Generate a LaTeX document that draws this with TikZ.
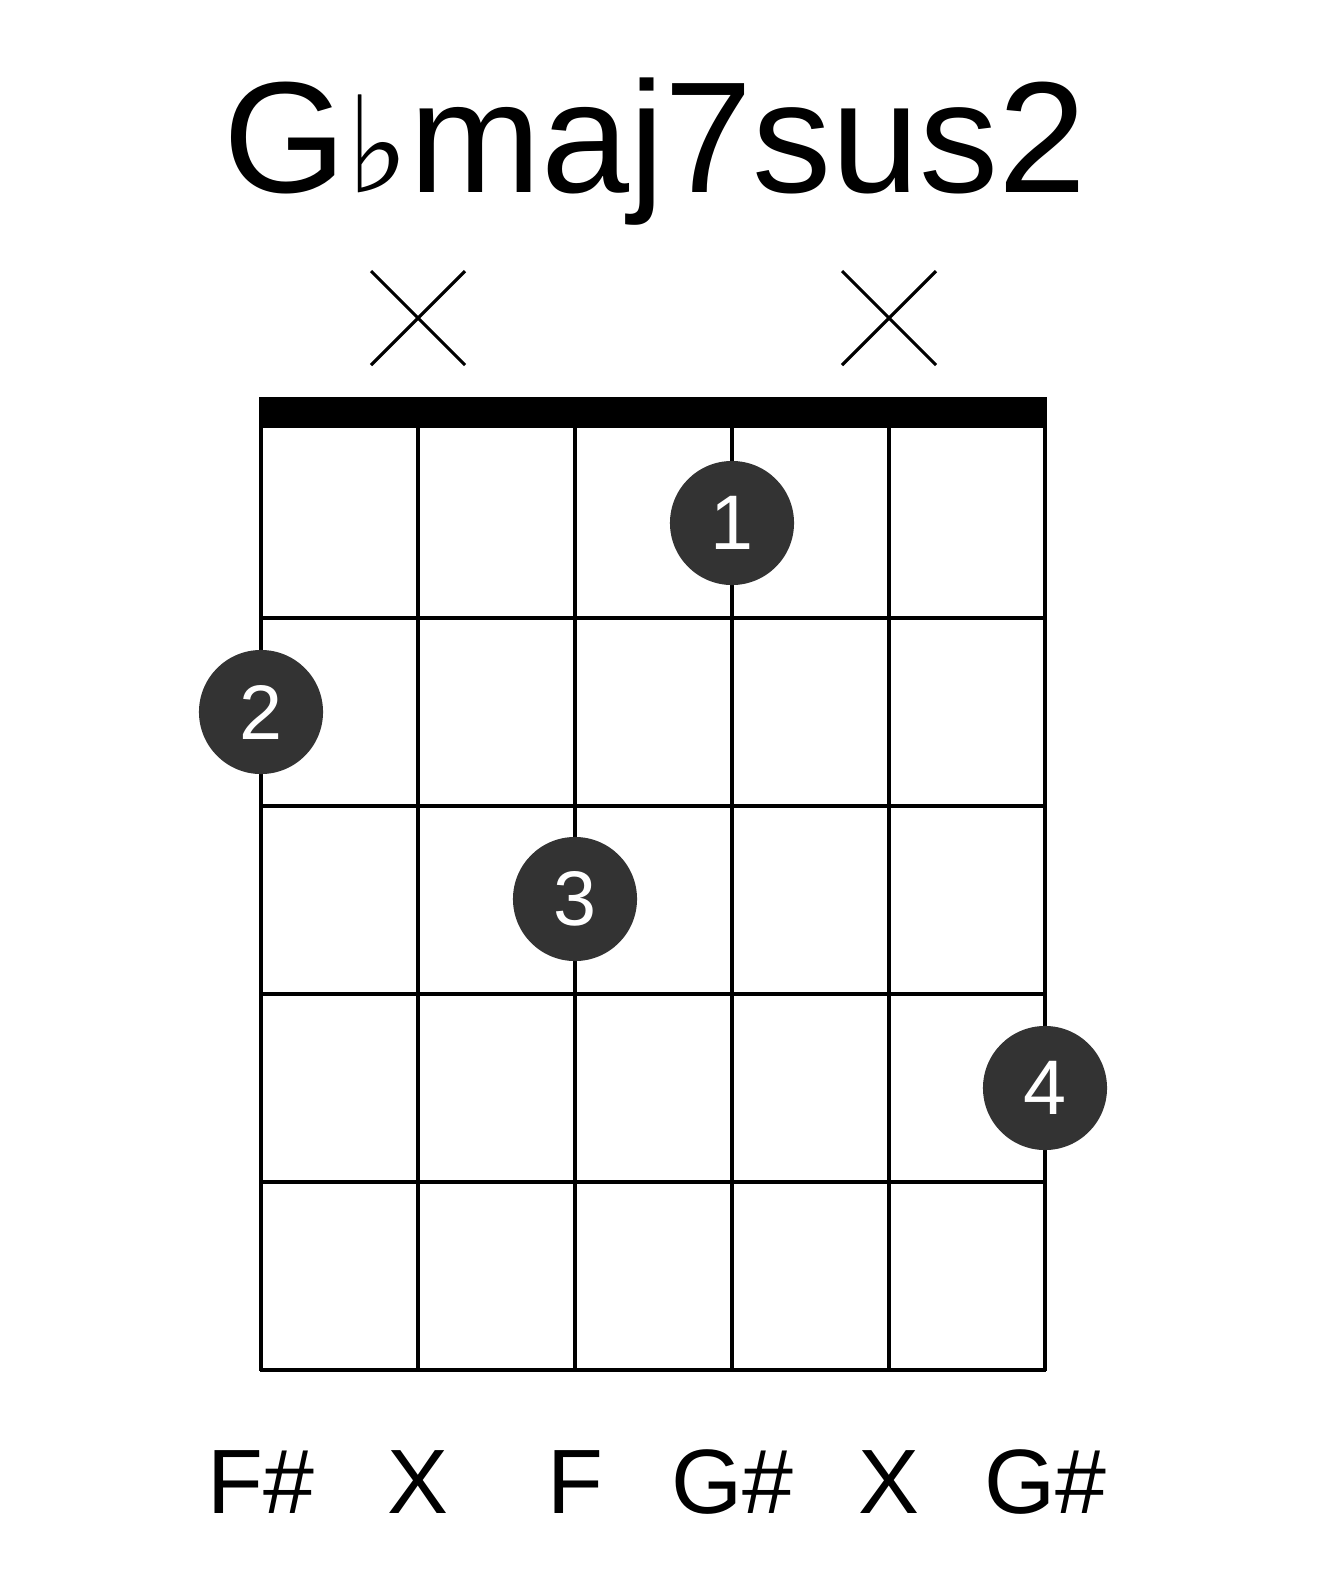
\documentclass[tikz,border=0pt]{standalone}
\usepackage{fontspec}
\setmainfont{Liberation Sans}
\newfontfamily\symfont{DejaVu Sans}
\begin{document}
\begin{tikzpicture}[x=0.01cm, y=-0.01cm,
    fretline/.style={line width=0.9pt},
    finger/.style={circle, fill=black!80, minimum size=1.24cm, inner sep=0pt, text=white, font=\fontsize{22}{22}\selectfont},
    notelabel/.style={font=\fontsize{26}{26}\selectfont},
    mute/.style={line width=0.9pt}]
                \useasboundingbox (0, 0) rectangle (1317, 1581);

                \node (title) at (655, 152) {\fontsize{45}{45}\selectfont G{\symfont\fontsize{38}{38}\selectfont ♭}maj7sus2};

                % nut
                \fill (259, 397) rectangle (1047, 428);

                % strings
                \foreach \x in {261, 418, 575, 732, 889, 1045}
                    \draw[fretline] (\x, 420) -- (\x, 1371);

                % frets
                \foreach \y in {618, 806, 994, 1182, 1370}
                    \draw[fretline] (260, \y) -- (1046, \y);

                % muted strings
                \draw[mute] (371, 271) -- (465, 365);
                \draw[mute] (371, 365) -- (465, 271);
                \draw[mute] (842, 271) -- (936, 365);
                \draw[mute] (842, 365) -- (936, 271);

                \node[finger] (f1) at (732, 523) {1};
                \node[finger] (f2) at (261, 712) {2};
                \node[finger] (f3) at (575, 899) {3};
                \node[finger] (f4) at (1045, 1088) {4};

                \node[notelabel] (n1) at (261, 1482) {F\#};
                \node[notelabel] (n2) at (418, 1482) {X};
                \node[notelabel] (n3) at (575, 1482) {F};
                \node[notelabel] (n4) at (732, 1482) {G\#};
                \node[notelabel] (n5) at (889, 1482) {X};
                \node[notelabel] (n6) at (1045, 1482) {G\#};
            \end{tikzpicture}
\end{document}
